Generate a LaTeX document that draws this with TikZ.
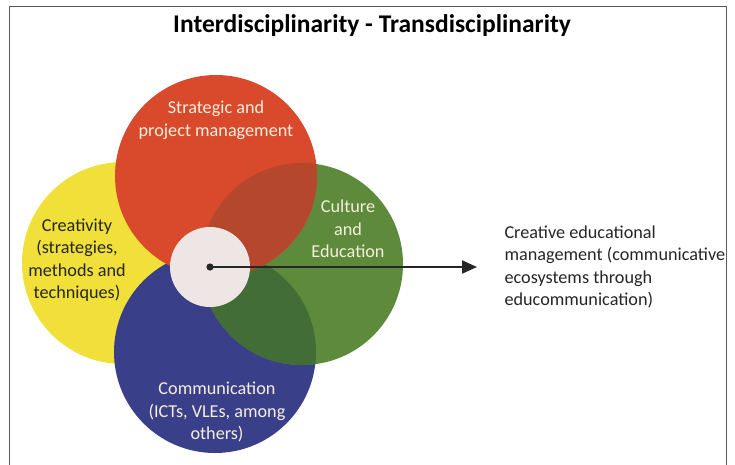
\documentclass[tikz,border=0pt]{standalone}
\usepackage{fontspec}
\setmainfont{Carlito}
\usetikzlibrary{positioning, arrows.meta}

\definecolor{redfield}{HTML}{D84A2B}
\definecolor{redmix}{HTML}{B4472C}
\definecolor{yellowfield}{HTML}{F1DF3A}
\definecolor{greenfield}{HTML}{5E8B3B}
\definecolor{greenmix}{HTML}{436D36}
\definecolor{bluefield}{HTML}{3A3F8A}
\definecolor{corefill}{HTML}{EEE6E4}
\definecolor{lighttext}{HTML}{F6EEDC}
\definecolor{framegray}{HTML}{5A5A5A}

\begin{document}
\begin{tikzpicture}[x=1pt, y=-1pt,
    field/.style={circle, minimum size=202pt, inner sep=0pt},
    lbl/.style={align=center, font=\fontsize{18.2}{22.5}\selectfont, text=lighttext},
    darklbl/.style={lbl, text=black!85}]
  \useasboundingbox (0,0) rectangle (735,464);
  \fill[white] (0,0) rectangle (735,464);
  \draw[framegray, line width=1pt] (9,470) -- (9,6) -- (726,6) -- (726,470);

  \node[font=\fontsize{25.5}{28}\selectfont\bfseries] (title) at (372,26)
    {Interdisciplinarity - Transdisciplinarity};

  % the four fields
  \node[field, fill=yellowfield] (crea) at (123,263) {};
  \node[field, fill=bluefield] (comm) at (215,352) {};
  \node[field, fill=greenfield] (cult) at (302,264) {};
  \begin{scope}
    \clip (comm.center) circle (101);
    \fill[greenmix] (cult.center) circle (101);
  \end{scope}
  \node[field, fill=redfield] (strat) at (216,176) {};
  \begin{scope}
    \clip (cult.center) circle (101);
    \fill[redmix] (strat.center) circle (101);
  \end{scope}

  \node[circle, minimum size=80pt, inner sep=0pt, fill=corefill] (core) at (210,267) {};
  \fill[black!85] (core.center) circle (3.6);

  \node[lbl] (stratlbl) at (216,120) {Strategic and\\project management};
  \node[darklbl] (crealbl) at (77,260) {Creativity\\(strategies,\\methods and\\techniques)};
  \node[lbl] (cultlbl) at (348,229) {Culture\\and\\Education};
  \node[lbl] (commlbl) at (217,412) {Communication\\(ICTs, VLEs, among\\others)};

  \node[darklbl, align=left, anchor=west] (result) at (501,267)
    {Creative educational\\management (communicative\\ecosystems through\\educommunication)};

  \coordinate (tip) at (477,267);
  \draw[black!85, line width=2pt, -{Triangle[length=15pt, width=13pt]}] (core.center) -- (tip);
\end{tikzpicture}
\end{document}
